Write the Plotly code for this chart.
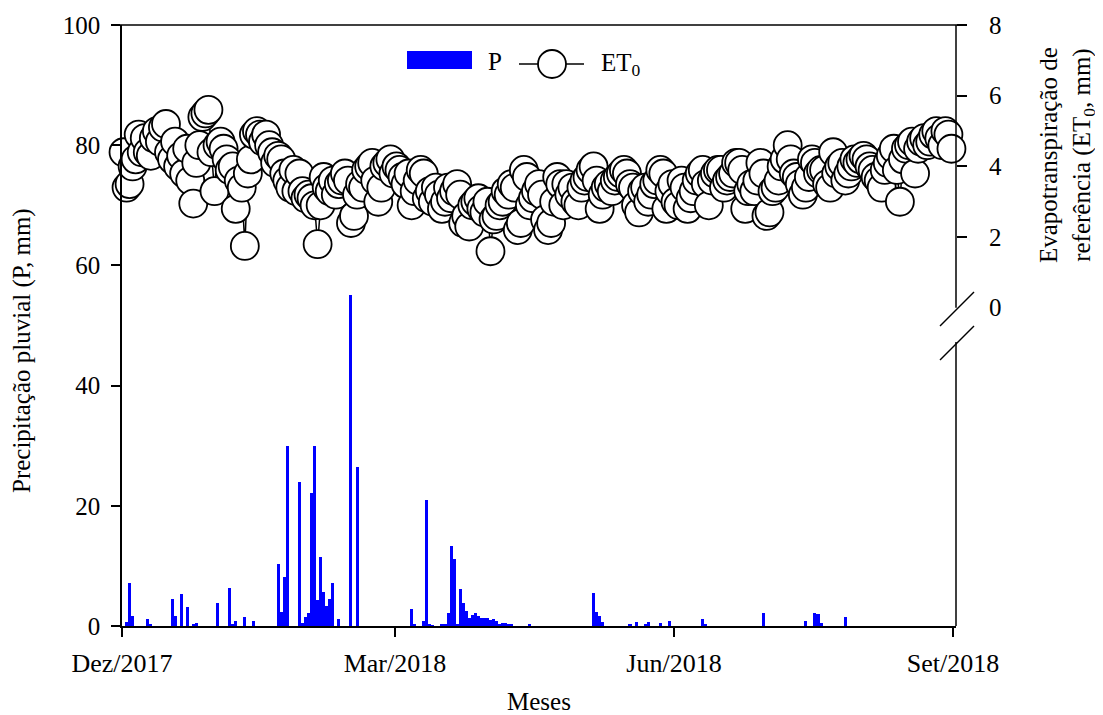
import pandas as pd
import plotly.graph_objects as go

# ---------------- data ----------------
# Daily reference evapotranspiration (ET0, mm), Dec/2017 .. Aug/2018
et0_dez = [4.4,3.4,3.5,4.0,4.2,4.9,4.4,4.8,4.4,4.3,4.8,5.0,4.7,5.1,5.2,4.4,4.2,4.7,4.0,4.3,3.8,4.5,3.6,2.95,4.1,4.6,5.4,5.5,5.6,4.4,3.3]
et0_jan = [4.6,4.7,4.5,4.2,3.9,4.0,2.8,3.6,3.4,1.75,3.8,4.2,4.9,5.0,4.9,4.7,4.9,4.6,4.4,4.1,4.3,4.2,3.8,3.6,3.4,3.9,3.3,3.8,3.3,3.1,3.2]
et0_fev = [3.1,2.9,1.8,2.9,3.7,3.4,3.3,3.6,3.2,3.5,3.6,3.8,3.6,2.4,2.6,3.2,3.5,3.4,3.9,4.0,4.1,3.6,3.0,3.4,4.0,4.1,4.2,3.8]
et0_mar = [4.0,3.9,3.7,3.5,3.8,2.9,3.3,3.6,3.9,3.8,3.1,3.3,3.0,3.4,3.2,2.8,3.0,3.4,3.1,3.3,3.5,3.2,2.4,2.6,2.3,2.9,3.0,3.1,2.8,2.7,3.0]
et0_abr = [1.6,2.5,2.6,2.9,3.0,3.3,3.2,3.5,3.4,2.2,2.4,3.9,3.7,2.9,3.1,3.3,3.5,3.2,2.5,2.2,2.4,3.0,3.7,3.5,2.9,3.5,3.2,3.4,3.0,2.9]
et0_mai = [3.4,3.6,3.7,3.9,4.0,3.6,2.8,3.2,3.4,3.5,3.3,3.6,3.7,3.8,3.9,3.8,3.5,3.4,2.9,2.7,3.3,3.4,3.0,3.2,3.5,3.6,3.9,3.8,2.8,3.3,3.5]
et0_jun = [3.0,2.9,3.6,3.4,2.8,3.1,3.3,3.6,3.8,3.9,3.5,2.9,3.6,3.8,3.9,3.9,3.4,3.6,3.7,3.8,4.1,4.1,3.9,2.8,3.3,3.5,3.3,3.6,4.1,3.8]
et0_jul = [2.6,2.7,3.3,3.4,3.6,4.0,4.2,4.6,4.2,3.8,3.7,3.5,3.2,3.4,3.7,4.2,4.1,3.8,3.9,3.9,3.5,3.4,4.4,3.8,4.0,4.1,3.6,3.8,4.0,4.2,4.1]
et0_ago = [4.2,4.3,4.2,4.0,3.9,3.7,3.6,3.4,3.9,4.1,4.3,4.5,3.9,3.0,4.2,4.5,4.6,4.7,3.8,4.5,4.7,4.8,4.6,4.7,4.9,5.0,4.8,4.6,5.0,4.9,4.5]
et0_start = "2017-12-01"

# Daily rainfall events (P, mm)
rain_dates = [
    "2017-12-02","2017-12-03","2017-12-04","2017-12-09","2017-12-10","2017-12-17","2017-12-18",
    "2017-12-20","2017-12-22","2017-12-24","2017-12-25",
    "2018-01-01","2018-01-05","2018-01-06","2018-01-07","2018-01-10","2018-01-13",
    "2018-01-21","2018-01-22","2018-01-23","2018-01-24","2018-01-28","2018-01-29","2018-01-30","2018-01-31",
    "2018-02-01","2018-02-02","2018-02-03","2018-02-04","2018-02-05","2018-02-06","2018-02-07","2018-02-08",
    "2018-02-10","2018-02-14","2018-02-16",
    "2018-03-06","2018-03-07","2018-03-10","2018-03-11","2018-03-12","2018-03-13","2018-03-16","2018-03-17",
    "2018-03-18","2018-03-19","2018-03-20","2018-03-21","2018-03-22","2018-03-23","2018-03-24","2018-03-25",
    "2018-03-26","2018-03-27","2018-03-28","2018-03-29","2018-03-30","2018-03-31",
    "2018-04-01","2018-04-02","2018-04-03","2018-04-04","2018-04-05","2018-04-06","2018-04-07","2018-04-08",
    "2018-04-14",
    "2018-05-05","2018-05-06","2018-05-07","2018-05-08","2018-05-17","2018-05-19","2018-05-22","2018-05-23",
    "2018-05-27","2018-05-30",
    "2018-06-10","2018-06-11","2018-06-30",
    "2018-07-14","2018-07-17","2018-07-18","2018-07-19","2018-07-27",
]
rain_mm = [
    0.7, 7.1, 1.6, 1.1, 0.3, 4.5, 1.6,
    5.3, 3.1, 0.3, 0.5,
    3.9, 6.3, 0.3, 0.8, 1.5, 0.8,
    10.3, 2.4, 8.1, 29.9, 23.9, 0.5, 1.5, 2.1,
    22.1, 29.9, 4.3, 11.5, 5.7, 3.3, 4.5, 7.1,
    1.1, 55.0, 26.5,
    2.8, 0.3, 0.9, 21.0, 0.2, 0.1, 0.2, 0.2,
    2.1, 13.3, 11.1, 0.2, 6.1, 3.8, 2.5, 1.3,
    1.9, 2.1, 1.6, 1.3, 1.3, 1.3,
    1.0, 1.1, 0.8, 0.4, 0.5, 0.5, 0.3, 0.3,
    0.3,
    5.5, 2.4, 1.6, 0.7, 0.3, 0.7, 0.3, 0.7,
    0.5, 0.9,
    1.1, 0.3, 2.1,
    0.9, 2.1, 2.0, 0.5, 1.5,
]

x_tick_vals = ["2017-12-01", "2018-03-01", "2018-06-01", "2018-09-01"]
x_tick_text = ["Dez/2017", "Mar/2018", "Jun/2018", "Set/2018"]
p_ticks = [0, 20, 40, 60, 80, 100]
et0_ticks = [0, 2, 4, 6, 8]

# ---------------- figure ----------------
et0 = et0_dez + et0_jan + et0_fev + et0_mar + et0_abr + et0_mai + et0_jun + et0_jul + et0_ago
et0_dates = pd.date_range(et0_start, periods=len(et0), freq="D")

# page has an 8px body margin; figure is sized/offset to compensate
W, H = 1095, 707
L, R, T, B = 114, 147, 17, 89
PW, PH = W - L - R, H - T - B
X0, Y0 = 122, 626  # plot-area left/bottom in screen pixels
FONT = "Liberation Serif"
FS = 25
DAY_MS = 86400000


def px(x):
    return (x - X0) / PW


def py(y):
    return (Y0 - y) / PH


fig = go.Figure()
fig.add_trace(go.Bar(
    x=rain_dates, y=rain_mm, name="P",
    marker=dict(color="#0000FF", line=dict(width=0)),
    xperiod=DAY_MS, xperiodalignment="middle",
    showlegend=False, yaxis="y",
))
fig.add_trace(go.Scatter(
    x=et0_dates, y=et0, name="ET0", mode="lines+markers",
    line=dict(color="black", width=1.5),
    marker=dict(size=28, color="white", line=dict(color="black", width=1.8)),
    xperiod=DAY_MS, xperiodalignment="middle",
    cliponaxis=False, showlegend=False, yaxis="y2",
))

axis_common = dict(
    showline=True, linecolor="black", linewidth=1.5,
    ticks="outside", ticklen=9, tickwidth=1.5, tickcolor="black",
    showgrid=False, zeroline=False, automargin=False,
)

fig.update_layout(
    width=W, height=H,
    margin=dict(l=L, r=R, t=T, b=B, pad=0, autoexpand=False),
    paper_bgcolor="white", plot_bgcolor="white",
    bargap=0,
    font=dict(family=FONT, size=FS, color="black"),
    xaxis=dict(
        type="date", range=["2017-12-01", "2018-09-02"],
        tickmode="array", tickvals=x_tick_vals, ticktext=x_tick_text,
        tickfont=dict(family=FONT, size=26, color="black"),
        title=dict(text="Meses", font=dict(family=FONT, size=FS), standoff=32),
        ticklabelstandoff=4,
        **axis_common,
    ),
    yaxis=dict(
        range=[0, 100], tickmode="array", tickvals=p_ticks,
        tickfont=dict(family=FONT, size=FS, color="black"),
        ticklabelstandoff=6,
        **axis_common,
    ),
    yaxis2=dict(
        range=[-9, 8], overlaying="y", side="right",
        tickmode="array", tickvals=[v for v in et0_ticks if v > 0],
        showticklabels=False, automargin=False,
        showline=False, ticks="outside", ticklen=10, tickwidth=1.5, tickcolor="black",
        showgrid=False, zeroline=False,
    ),
)

shapes = []
# top frame line (extends past both axes by tick length)
shapes.append(dict(type="line", xref="paper", yref="paper", x0=px(113), x1=px(965), y0=1, y1=1,
                   line=dict(color="black", width=1.5)))
# right axis line with break
shapes.append(dict(type="line", xref="paper", yref="y2", x0=1, x1=1, y0=0, y1=8,
                   line=dict(color="black", width=1.5)))
shapes.append(dict(type="line", xref="paper", yref="y2", x0=1, x1=1, y0=-9, y1=-0.97,
                   line=dict(color="black", width=1.5)))
# break slashes
for y_lo, y_hi in [(326, 292), (360, 326)]:
    shapes.append(dict(type="line", xref="paper", yref="paper", x0=px(940), x1=px(974),
                       y0=py(y_lo), y1=py(y_hi), line=dict(color="black", width=1.5)))
# manual legend
shapes.append(dict(type="rect", xref="paper", yref="paper", x0=px(407), x1=px(472),
                   y0=py(69), y1=py(51), fillcolor="#0000FF", line=dict(width=0)))
shapes.append(dict(type="line", xref="paper", yref="paper", x0=px(519), x1=px(584),
                   y0=py(64), y1=py(64), line=dict(color="black", width=1.5)))
shapes.append(dict(type="circle", xref="paper", yref="paper",
                   xsizemode="pixel", ysizemode="pixel",
                   xanchor=px(552), yanchor=py(64), x0=-14, x1=14, y0=-14, y1=14,
                   fillcolor="white", line=dict(color="black", width=1.8)))
fig.update_layout(shapes=shapes)

annotations = [
    dict(text="P", xref="paper", yref="paper", x=px(486), y=py(62), xanchor="left", yanchor="middle",
         showarrow=False, font=dict(family=FONT, size=FS)),
    dict(text="ET<sub>0</sub>", xref="paper", yref="paper", x=px(599), y=py(64), xanchor="left",
         yanchor="middle", showarrow=False, font=dict(family=FONT, size=FS)),
    dict(text="Precipitação pluvial (P, mm)", xref="paper", yref="paper", x=px(22), y=py(351),
         xanchor="center", yanchor="middle", textangle=-90, showarrow=False,
         font=dict(family=FONT, size=FS)),
    dict(text="Evapotranspiração de<br>referência (ET<sub>0</sub>, mm)", xref="paper", yref="paper",
         x=px(1067), y=py(155), xanchor="center", yanchor="middle", textangle=-90, showarrow=False,
         font=dict(family=FONT, size=FS)),
]
# right-axis tick labels (0 sits at the axis break)
for v in et0_ticks:
    annotations.append(dict(text=str(v), xref="paper", yref="y2", x=1, y=v, xshift=31,
                            xanchor="left", yanchor="middle", showarrow=False,
                            font=dict(family=FONT, size=FS)))
fig.update_layout(annotations=annotations)

fig.write_html("out.html")
